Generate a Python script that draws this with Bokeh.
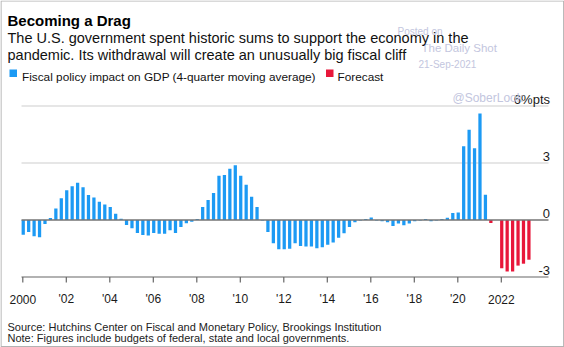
from bokeh.plotting import figure
from bokeh.models import Range1d, Label, BoxAnnotation, ColumnDataSource
from bokeh.core.properties import value
from bokeh.embed import file_html
from bokeh.resources import INLINE

# ---------------- data ----------------
actual_quarters = [f"{y}Q{q}" for y in range(2000, 2022) for q in range(1, 5)][:86]
actual_values = [
    -0.77, -0.63, -0.86, -0.91,
    -0.21, 0.10, 0.60, 1.14,
    1.56, 1.77, 1.96, 1.72,
    1.32, 1.18, 0.96, 0.81,
    0.68, 0.33, 0.07, -0.26,
    -0.44, -0.68, -0.79, -0.81,
    -0.68, -0.72, -0.72, -0.54,
    -0.68, -0.37, -0.17, -0.09,
    0.05, 0.68, 1.05, 1.42,
    2.33, 2.37, 2.70, 2.88,
    2.33, 1.86, 1.23, 0.68,
    -0.02, -0.63, -1.23, -1.54,
    -1.54, -1.51, -1.23, -1.37,
    -1.40, -1.40, -1.49, -1.44,
    -1.30, -1.18, -0.93, -0.70,
    -0.37, -0.12, -0.03, 0.05,
    0.13, -0.02, -0.07, -0.12,
    -0.32, -0.19, -0.28, -0.18,
    -0.07, -0.03, 0.05, -0.07,
    -0.02, 0.05, 0.12, 0.37,
    0.40, 3.88, 4.75, 3.77,
    5.60, 1.33,
]
forecast_quarters = ["2021Q3", "2021Q4", "2022Q1", "2022Q2", "2022Q3", "2022Q4", "2023Q1", "2023Q2"]
forecast_values = [-0.16, 0.0, -2.54, -2.71, -2.71, -2.40, -2.30, -2.09]

x_ticks = [2000, 2002, 2004, 2006, 2008, 2010, 2012, 2014, 2016, 2018, 2020, 2022]
x_tick_labels = ["2000", "'02", "'04", "'06", "'08", "'10", "'12", "'14", "'16", "'18", "'20", "2022"]
y_ticks = [-3, 0, 3, 6]
y_tick_labels = ["-3", "0", "3", "6%pts"]

title = "Becoming a Drag"
subtitle1 = "The U.S. government spent historic sums to support the economy in the"
subtitle2 = "pandemic. Its withdrawal will create an unusually big fiscal cliff"
legend_actual = "Fiscal policy impact on GDP (4-quarter moving average)"
legend_forecast = "Forecast"
source_note = "Source: Hutchins Center on Fiscal and Monetary Policy, Brookings Institution"
note = "Note: Figures include budgets of federal, state and local governments."

BLUE = "#1c9af4"
RED = "#e8173a"
FONT = "Liberation Sans"
TXT = "#1a1a1a"


def qx(q):
    return int(q[:4]) + (int(q[5]) - 1) * 0.25 + 0.02


W, H = 564, 347
PX_YEAR = 21.75          # pixels per year
PX_UNIT = 19.0           # pixels per %pt
X2000 = 22.3             # canvas x of 2000
Y0 = 219.5               # canvas y of zero
PLOT_L, PLOT_R = 21, 548

xs = 2000 - X2000 / PX_YEAR
xe = xs + W / PX_YEAR
ys = -(H - Y0) / PX_UNIT
ye = Y0 / PX_UNIT


def dx(X):
    return xs + X / PX_YEAR


p = figure(width=W, height=H, output_backend="svg", toolbar_location=None,
           x_range=Range1d(xs, xe), y_range=Range1d(ys, ye),
           x_axis_location=None, y_axis_location=None, title=None,
           min_border=0, min_border_left=0, min_border_right=0,
           min_border_top=0, min_border_bottom=0)
p.outline_line_color = None
p.background_fill_color = "white"
p.border_fill_color = "white"
for g in list(p.xgrid) + list(p.ygrid):
    g.visible = False

# horizontal gridlines at positive ticks
grid_y = [t for t in y_ticks if t > 0]
p.segment(x0=[dx(PLOT_L)] * len(grid_y), x1=[dx(PLOT_R)] * len(grid_y), y0=grid_y, y1=grid_y,
          line_color="#dedede", line_width=1.3)

src_a = ColumnDataSource(dict(x=[qx(q) for q in actual_quarters], top=actual_values))
src_f = ColumnDataSource(dict(x=[qx(q) for q in forecast_quarters], top=forecast_values))
p.vbar(x="x", top="top", bottom=0, width=0.15, source=src_a, fill_color=BLUE, line_color=None)
p.vbar(x="x", top="top", bottom=0, width=0.15, source=src_f, fill_color=RED, line_color=None)

# zero line
p.segment(x0=[dx(PLOT_L)], x1=[dx(PLOT_R)], y0=[0], y1=[0], line_color="#757575", line_width=1.5)

# x axis (at y = -3)
ybase = min(y_ticks)
p.segment(x0=[dx(PLOT_L)], x1=[dx(PLOT_R)], y0=[ybase], y1=[ybase], line_color="#666666", line_width=1.2)
p.segment(x0=x_ticks, x1=x_ticks, y0=[ybase] * len(x_ticks), y1=[ybase - 5.5 / PX_UNIT] * len(x_ticks),
          line_color="#666666", line_width=1.2)
p.text(x=x_ticks, y=[ybase] * len(x_ticks), text=x_tick_labels, text_align="center",
       text_baseline="alphabetic", y_offset=22, text_font=value(FONT), text_font_size="12px",
       text_color=TXT)

# right-hand value labels
p.text(x=[dx(PLOT_R)] * len(y_ticks), y=y_ticks, text=y_tick_labels, text_align="right",
       text_baseline="alphabetic", x_offset=1.5, y_offset=-7, text_font=value(FONT),
       text_font_size="13px", text_color=TXT)


def lab(text, X, Y, size, color, bold=False):
    p.add_layout(Label(x=X, y=H - Y, x_units="screen", y_units="screen",
                       text=text, text_baseline="alphabetic", text_align="left",
                       text_font=FONT, text_font_size=f"{size}px", text_color=color,
                       text_font_style="bold" if bold else "normal"))


WM = "#c3c6de"
lab("Posted on", 397, 30.5, 10, WM)
lab("The Daily Shot", 421, 47, 11.5, WM)
lab("21-Sep-2021", 418, 64, 10, WM)
lab("@SoberLook", 452, 97, 12, WM)

lab(title, 7, 19.5, 15, "#000000", bold=True)
lab(subtitle1, 7, 37.5, 14.5, "#111111")
lab(subtitle2, 7, 54.5, 14.5, "#111111")
lab(legend_actual, 21.5, 76, 11.8, "#111111")
lab(legend_forecast, 337, 76, 11.8, "#111111")
lab(source_note, 7, 326, 11, "#222222")
lab(note, 7, 337.5, 11, "#222222")


def box(l, t, r, b, fill, line=None):
    p.add_layout(BoxAnnotation(left=l, right=r, top=H - t, bottom=H - b,
                               left_units="screen", right_units="screen", top_units="screen",
                               bottom_units="screen", fill_color=fill,
                               fill_alpha=1 if fill else 0, line_color=line, line_width=1.2,
                               line_alpha=1 if line else 0))


box(9, 69, 16.5, 76.5, BLUE)
box(325.5, 69, 333, 76.5, RED)
box(0.5, 0.5, W - 0.8, H - 0.8, None, "#b3b3b3")

open("out.html", "w").write(file_html(p, INLINE))
